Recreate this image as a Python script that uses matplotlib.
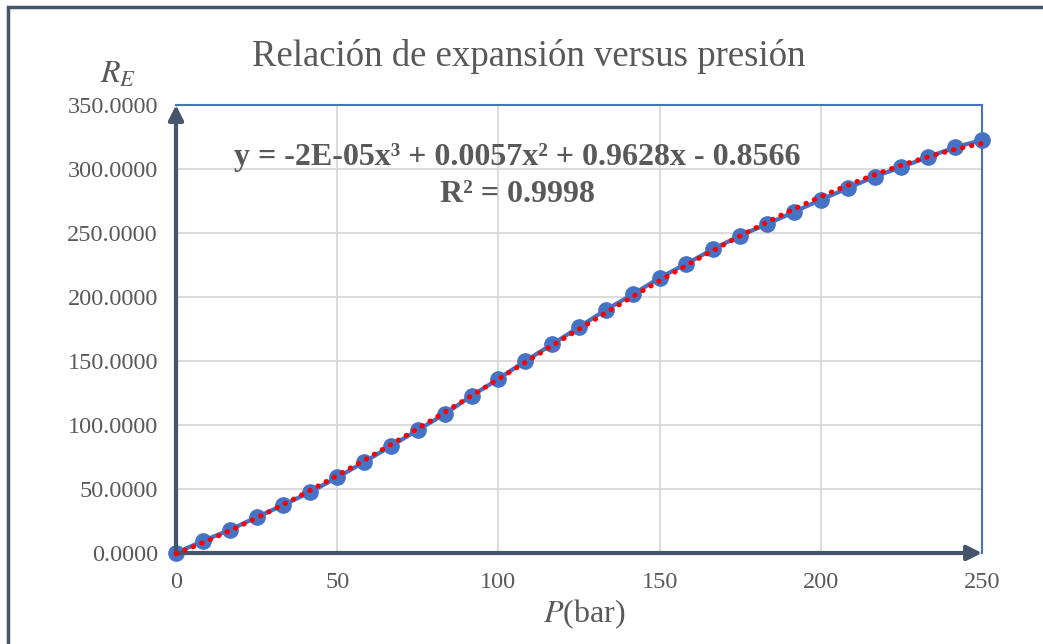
import numpy as np
import matplotlib
matplotlib.use("Agg")
import matplotlib.pyplot as plt
from matplotlib.patches import Rectangle

# datos
presion = [i * 250 / 30 for i in range(31)]
rel_exp = [0.0, 9.4, 18.0, 28.0, 37.5, 47.7, 59.0, 71.0, 83.6, 96.0,
           108.6, 122.7, 136.0, 150.0, 163.0, 176.5, 190.0, 202.0, 215.0, 226.0,
           237.5, 248.0, 257.0, 266.4, 276.0, 285.0, 294.0, 301.5, 309.4, 317.0,
           322.6]
y_ticks = [0, 50, 100, 150, 200, 250, 300, 350]
x_ticks = [0, 50, 100, 150, 200, 250]

plt.rcParams['font.family'] = ['Liberation Serif', 'DejaVu Serif']

fig = plt.figure(figsize=(10.43, 6.44), dpi=100)
ax = fig.add_axes([176/1043, 1-553/644, (982-176)/1043, (553-105)/644])

gris = '#595959'
pizarra = '#44546A'
azul = '#4472C4'

# marco exterior
fig.patches.append(Rectangle((8/1043, -0.05), 1.2, 1 - 7/644 + 0.05, transform=fig.transFigure,
                             fill=False, edgecolor=pizarra, lw=2.5, zorder=0))

ax.plot(presion, rel_exp, color=azul, lw=3, marker='o', markersize=11,
        markerfacecolor=azul, markeredgecolor=azul, zorder=3, clip_on=False)

# linea de tendencia polinomica grado 3
coef = np.polyfit(presion, rel_exp, 3)
xt = np.linspace(0, 250, 300)
ax.plot(xt, np.polyval(coef, xt), color='#FF0000', lw=3.6, linestyle=(0, (0.1, 1.75)),
        dash_capstyle='round', zorder=4, clip_on=False)

ax.set_xlim(0, 250)
ax.set_ylim(0, 350)
ax.set_xticks(x_ticks)
ax.set_yticks(y_ticks)
ax.set_yticklabels(['%.4f' % v for v in y_ticks])
ax.tick_params(length=0, labelsize=17.5, labelcolor=gris)
ax.tick_params(axis='y', pad=13)
ax.tick_params(axis='x', pad=14)
ax.grid(True, color='#D9D9D9', lw=1.3)
ax.set_axisbelow(True)

for s in ['top', 'right']:
    ax.spines[s].set_color(azul)
    ax.spines[s].set_linewidth(1.5)
for s in ['left', 'bottom']:
    ax.spines[s].set_visible(False)

# ejes con flecha
ax.annotate('', xy=(0, 1), xytext=(0, 0), xycoords='axes fraction',
            arrowprops=dict(arrowstyle='-|>', color=pizarra, lw=3, mutation_scale=22, shrinkA=0, shrinkB=0))
ax.annotate('', xy=(1, 0), xytext=(0, 0), xycoords='axes fraction',
            arrowprops=dict(arrowstyle='-|>', color=pizarra, lw=3, mutation_scale=22, shrinkA=0, shrinkB=0))

fig.text(529/1043, 1-56/644, 'Relación de expansión versus presión', ha='center', va='center',
         fontsize=26.5, color=gris)
fig.text(118/1043, 1-75/644, r'$\mathit{R}_\mathit{E}$', ha='center', va='center', fontsize=23,
         color=gris, math_fontfamily='stix')
fig.text(584/1043, 1-614/644, r'$\mathit{P}$(bar)', ha='center', va='center', fontsize=23,
         color=gris, math_fontfamily='stix')

ax.text(517/1043, 1-158/644, 'y = -2E-05x³ + 0.0057x² + 0.9628x - 0.8566', transform=fig.transFigure,
        ha='center', va='center', fontsize=23, fontweight='bold', color=gris)
ax.text(518/1043, 1-194/644, 'R² = 0.9998', transform=fig.transFigure,
        ha='center', va='center', fontsize=23, fontweight='bold', color=gris)

fig.savefig('out.png', dpi=100)
